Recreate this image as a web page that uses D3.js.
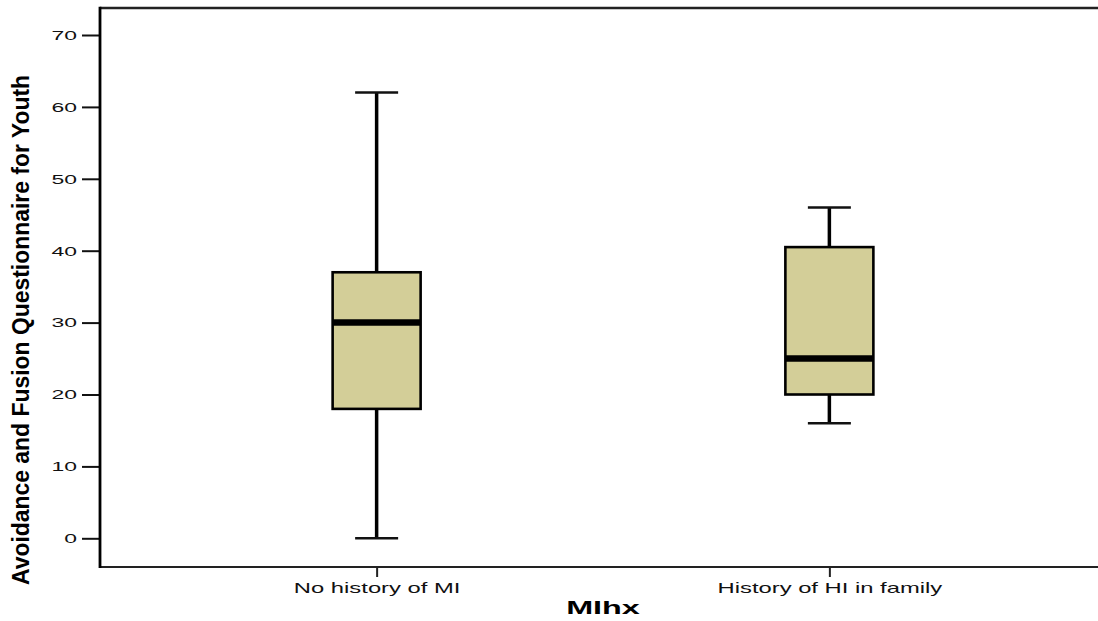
<!DOCTYPE html>
<html>
<head>
<meta charset="utf-8">
<script src="https://cdn.jsdelivr.net/npm/d3@7"></script>
<style>
  html, body { margin: 0; padding: 0; background: #fff; }
  svg { display: block; }
</style>
</head>
<body>
<svg id="chart" width="1098" height="621"></svg>
<script>
// Groups and their five-number summaries
const groups = ["No history of MI", "History of HI in family"];
const minVals = [0, 16];
const q1Vals = [18, 20];
const medianVals = [30, 25];
const q3Vals = [37, 40.5];
const maxVals = [62, 46];
const yTicks = [0, 10, 20, 30, 40, 50, 60, 70];

(function () {
const svg = d3.select("#chart");
const W = 1098;
const plotLeft = 100, plotTop = 8, plotBottom = 567, plotRight = 1106;
const stretch = 1.7; // wide labels

const x = d3.scalePoint().domain(groups).range([plotLeft, plotRight]).padding(0.611);
const y = d3.scaleLinear().domain([0, 70]).range([538.3, 35]);

const boxW = 88, capW = 43;
const fill = "#d3ce98";
const labelFont = "'Liberation Sans', Arial, sans-serif";

// frame: top and bottom lines
svg.append("line").attr("x1", plotLeft).attr("x2", W).attr("y1", plotTop).attr("y2", plotTop)
  .attr("stroke", "#222").attr("stroke-width", 2.5);
svg.append("line").attr("x1", plotLeft).attr("x2", W).attr("y1", plotBottom).attr("y2", plotBottom)
  .attr("stroke", "#222").attr("stroke-width", 2);

// y axis
const yAxis = d3.axisLeft(y).tickValues(yTicks).tickSize(18).tickPadding(5).tickSizeOuter(0);
const gy = svg.append("g").attr("transform", `translate(${plotLeft},0)`).call(yAxis);
gy.select(".domain").remove();
gy.selectAll(".tick line").attr("stroke", "#111").attr("stroke-width", 2);
gy.selectAll(".tick text").attr("fill", "#111")
  .attr("x", -23 / stretch)
  .attr("transform", `scale(${stretch},1)`)
  .style("font-family", labelFont).style("font-size", "13.5px");
svg.append("line").attr("x1", plotLeft).attr("x2", plotLeft).attr("y1", plotTop - 1.25).attr("y2", plotBottom + 1)
  .attr("stroke", "#000").attr("stroke-width", 2.8);

// x axis
const xAxis = d3.axisBottom(x).tickSize(10).tickPadding(6).tickSizeOuter(0);
const gx = svg.append("g").attr("transform", `translate(0,${plotBottom})`).call(xAxis);
gx.select(".domain").remove();
gx.selectAll(".tick line").attr("stroke", "#222").attr("stroke-width", 2);
gx.selectAll(".tick text").attr("fill", "#111")
  .attr("transform", `scale(${stretch},1)`)
  .style("font-family", labelFont).style("font-size", "14px");

// axis titles
svg.append("text").attr("transform", "translate(603,614) scale(1.85,1)").attr("text-anchor", "middle")
  .style("font-family", labelFont).style("font-size", "17.5px")
  .style("font-weight", "bold").attr("fill", "#000").text("MIhx");

svg.append("text").attr("transform", "translate(28.5,330) rotate(-90)")
  .attr("text-anchor", "middle")
  .attr("textLength", 510).attr("lengthAdjust", "spacingAndGlyphs")
  .style("font-family", "'Liberation Sans Narrow', 'Arial Narrow', 'Liberation Sans', sans-serif")
  .style("font-size", "23.5px").style("font-weight", "bold").attr("fill", "#000")
  .text("Avoidance and Fusion Questionnaire for Youth");

// boxplots
const data = groups.map((g, i) => ({
  g, min: minVals[i], q1: q1Vals[i], med: medianVals[i], q3: q3Vals[i], max: maxVals[i]
}));

const box = svg.append("g").selectAll("g").data(data).join("g");

// whiskers
box.append("line").attr("x1", d => x(d.g)).attr("x2", d => x(d.g))
  .attr("y1", d => y(d.q3)).attr("y2", d => y(d.max))
  .attr("stroke", "#000").attr("stroke-width", 3.5);
box.append("line").attr("x1", d => x(d.g)).attr("x2", d => x(d.g))
  .attr("y1", d => y(d.q1)).attr("y2", d => y(d.min))
  .attr("stroke", "#000").attr("stroke-width", 3.5);
// caps
box.append("line").attr("x1", d => x(d.g) - capW / 2).attr("x2", d => x(d.g) + capW / 2)
  .attr("y1", d => y(d.max)).attr("y2", d => y(d.max))
  .attr("stroke", "#111").attr("stroke-width", 2.4);
box.append("line").attr("x1", d => x(d.g) - capW / 2).attr("x2", d => x(d.g) + capW / 2)
  .attr("y1", d => y(d.min)).attr("y2", d => y(d.min))
  .attr("stroke", "#111").attr("stroke-width", 2.4);
// box
box.append("rect").attr("x", d => x(d.g) - boxW / 2).attr("width", boxW)
  .attr("y", d => y(d.q3)).attr("height", d => y(d.q1) - y(d.q3))
  .attr("fill", fill).attr("stroke", "#000").attr("stroke-width", 2.6);
// median
box.append("line").attr("x1", d => x(d.g) - boxW / 2).attr("x2", d => x(d.g) + boxW / 2)
  .attr("y1", d => y(d.med)).attr("y2", d => y(d.med))
  .attr("stroke", "#000").attr("stroke-width", 6.5);
})();
</script>
</body>
</html>
